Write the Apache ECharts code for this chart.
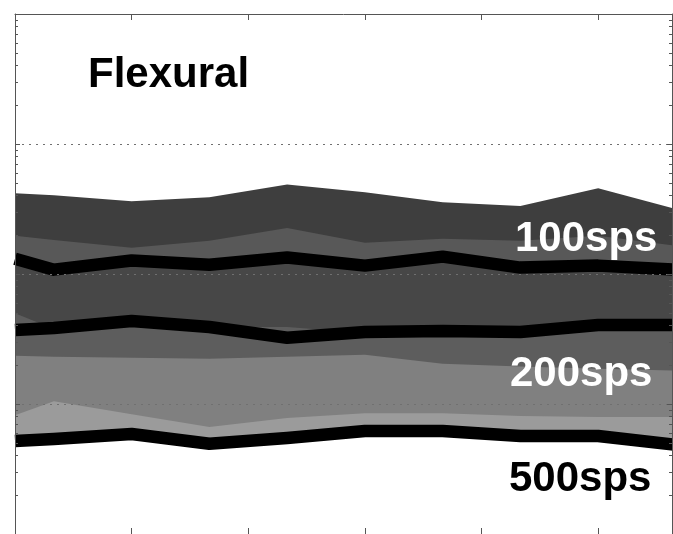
<!DOCTYPE html>
<html>
<head>
<meta charset="utf-8">
<script src="https://cdn.jsdelivr.net/npm/echarts@6/dist/echarts.min.js"></script>
<style>
  html, body { margin: 0; padding: 0; background: #ffffff; }
  #chart { width: 673px; height: 534px; }
</style>
</head>
<body>
<div id="chart"></div>
<script>
// Sample positions along the horizontal axis
const xValues = [0, 1, 3, 5, 7, 9, 11, 13, 15, 17];

// 100 sps: outer and inner envelope edges, median
const outer100  = [4.18, 4.03, 3.63, 3.90, 4.89, 4.25, 3.57, 3.33, 4.56, 3.16];
const inner100  = [1.97, 1.83, 1.59, 1.80, 2.26, 1.74, 1.87, 1.80, 1.97, 1.65];
const median100 = [1.31, 1.08, 1.27, 1.18, 1.34, 1.16, 1.36, 1.12, 1.16, 1.08];

// 200 sps: upper edge, median, lower edge
const inner200  = [0.500, 0.378, 0.412, 0.391, 0.391, 0.352, 0.352, 0.346, 0.391, 0.391];
const median200 = [0.371, 0.384, 0.435, 0.391, 0.323, 0.358, 0.365, 0.358, 0.405, 0.405];
const outer200  = [0.235, 0.231, 0.227, 0.223, 0.231, 0.239, 0.204, 0.194, 0.187, 0.181];

// 500 sps: upper edge, median
const inner500  = [0.0821, 0.105, 0.0835, 0.0665, 0.0779, 0.0850, 0.0850, 0.0807, 0.0793, 0.0793];
const median500 = [0.0520, 0.0539, 0.0588, 0.0494, 0.0548, 0.0620, 0.0620, 0.0568, 0.0568, 0.0485];

// Axis ranges and ticks
const xMin = 0, xMax = 16.9, xStep = 3;
const yMin = 0.01, yMax = 100;
const minorMultipliers = [2, 3, 4, 5, 6, 7, 8, 9];
const decades = [0.01, 0.1, 1, 10];
const minorTickValues = [];
decades.forEach(d => minorMultipliers.forEach(m => minorTickValues.push(+(d * m).toPrecision(3))));

// Rate labels
const labels = [
  { text: 'Flexural', x: 88,  y: 75,  color: '#000000' },
  { text: '100sps',   x: 515, y: 239, color: '#ffffff' },
  { text: '200sps',   x: 510, y: 374, color: '#ffffff' },
  { text: '500sps',   x: 509, y: 479, color: '#000000' }
];

const pairs = vals => xValues.map((x, i) => [x, vals[i]]);

// Each shaded layer fills from its edge down to the bottom of the axes
function layer(name, vals, color) {
  return {
    name, type: 'line', data: pairs(vals),
    symbol: 'none', showSymbol: false, silent: true,
    lineStyle: { width: 0, opacity: 0 },
    areaStyle: { color, opacity: 1, origin: 'start' },
    z: 2
  };
}
function medianLine(name, vals) {
  return {
    name, type: 'line', data: pairs(vals),
    symbol: 'none', showSymbol: false, silent: true,
    lineStyle: { width: 12.5, color: '#000000', join: 'round', cap: 'butt' },
    z: 3
  };
}

const axisColor = '#555555';
function yAx(position, withGrid, minor) {
  return {
    type: 'log', logBase: 10, min: yMin, max: yMax, position, z: 5,
    axisLine: { show: !minor, lineStyle: { color: axisColor, width: 1 } },
    axisTick: minor
      ? { show: true, inside: true, length: 3, customValues: minorTickValues, lineStyle: { color: axisColor } }
      : { show: true, inside: true, length: 5, lineStyle: { color: axisColor } },
    axisLabel: { show: false },
    splitLine: { show: withGrid, lineStyle: { color: '#707070', width: 1, type: [2, 5] } },
    minorTick: { show: false }
  };
}
function xAx(position) {
  return {
    type: 'value', min: xMin, max: xMax, interval: xStep, position, z: 5,
    axisLine: { show: true, lineStyle: { color: axisColor, width: 1 } },
    axisTick: { show: true, inside: true, length: 6, lineStyle: { color: axisColor } },
    axisLabel: { show: false },
    splitLine: { show: false }
  };
}

const chart = echarts.init(document.getElementById('chart'), null, { renderer: 'canvas' });
chart.setOption({
  animation: false,
  backgroundColor: '#ffffff',
  grid: { left: 15, top: 14, width: 657, height: 525 },
  xAxis: [xAx('bottom'), xAx('top')],
  yAxis: [yAx('left', true, false), yAx('left', false, true), yAx('right', false, false), yAx('right', false, true)],
  series: [
    layer('100sps outer', outer100, '#3e3e3e'),
    layer('100sps inner', inner100, '#585858'),
    layer('100sps median band', median100, '#474747'),
    layer('200sps upper', inner200, '#5d5d5d'),
    layer('200sps lower', outer200, '#808080'),
    layer('500sps upper', inner500, '#9b9b9b'),
    layer('500sps median band', median500, '#ffffff'),
    medianLine('100sps', median100),
    medianLine('200sps', median200),
    medianLine('500sps', median500)
  ],
  graphic: labels.map(l => ({
    type: 'text', x: l.x, y: l.y, z: 100, silent: true,
    style: {
      text: l.text, fill: l.color,
      font: 'bold 42px "Liberation Sans", Arial, Helvetica, sans-serif',
      align: 'left', verticalAlign: 'middle'
    }
  }))
});
</script>
</body>
</html>
